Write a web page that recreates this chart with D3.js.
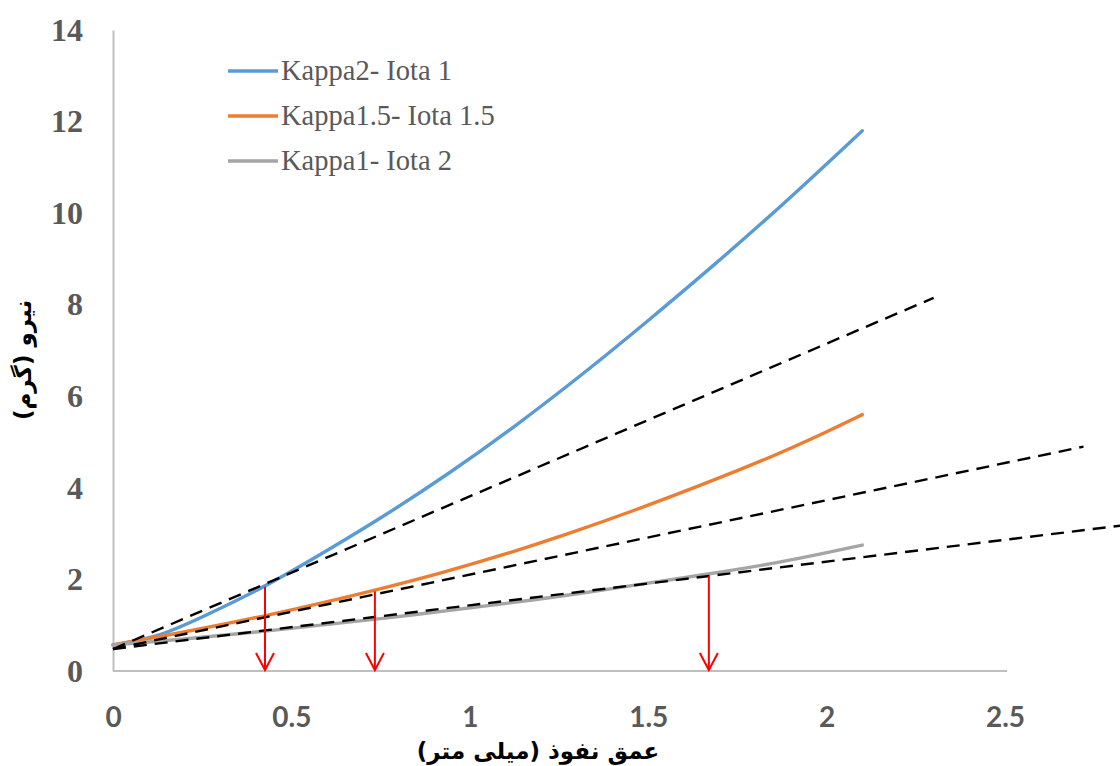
<!DOCTYPE html>
<html>
<head>
<meta charset="utf-8">
<script src="https://cdn.jsdelivr.net/npm/d3@7"></script>
<style>
  body { margin: 0; background: #fff; }
</style>
</head>
<body>
<script>
////// data (x = depth mm, y = force g)

const seriesNames = ["Kappa2- Iota 1", "Kappa1.5- Iota 1.5", "Kappa1- Iota 2"];
const seriesColors = ["#5b9bd5", "#ed7d31", "#a5a5a5"];

const kappa2X = [0, 0.13, 0.27, 0.43, 0.55, 0.74, 0.94, 1.12, 1.32, 1.5, 1.69, 1.88, 2.1];
const kappa2Y = [0.57, 0.74, 1.25, 1.86, 2.4, 3.28, 4.3, 5.3, 6.5, 7.65, 8.9, 10.2, 11.8];

const kappa15X = [0, 0.18, 0.43, 0.74, 0.93, 1.1, 1.27, 1.46, 1.645, 1.83, 2.0, 2.1];
const kappa15Y = [0.57, 0.82, 1.2, 1.77, 2.16, 2.55, 2.98, 3.5, 4.05, 4.62, 5.22, 5.6];

const kappa1X = [0, 0.18, 0.43, 0.74, 1.11, 1.3, 1.5, 1.67, 1.88, 2.1];
const kappa1Y = [0.57, 0.68, 0.87, 1.13, 1.48, 1.68, 1.92, 2.12, 2.38, 2.75];

// dashed tangent lines: [x0, y0, x1, y1]
const tangents = [
    [0, 0.48, 2.3, 8.15],
    [0, 0.48, 2.72, 4.9],
    [0, 0.48, 2.85, 3.2]
];

// red arrows: x position and top value
const arrowX = [0.426, 0.734, 1.67];
const arrowTop = [1.84, 1.74, 2.07];

const xTicks = [0, 0.5, 1, 1.5, 2, 2.5];
const yTicks = [0, 2, 4, 6, 8, 10, 12, 14];

const xTitle = "عمق نفوذ (میلی متر)";
const yTitle = "نیرو (گرم)";

//////

const W = 1120, H = 766;

const svg = d3.select("body").append("svg")
    .attr("width", W)
    .attr("height", H);

const x = d3.scaleLinear().domain([0, 2.5]).range([113, 1005]);
const y = d3.scaleLinear().domain([0, 14]).range([671, 30]);

// axes
const xAxis = svg.append("g")
    .attr("transform", `translate(0,${y(0)})`)
    .call(d3.axisBottom(x).tickValues(xTicks).tickFormat(d3.format("")).tickSize(0).tickPadding(36));
xAxis.select(".domain").attr("stroke", "#bfbfbf").attr("stroke-width", 2)
    .attr("d", `M${x(0)},0H1007`);
xAxis.selectAll("text")
    .attr("font-family", "Lato, 'Open Sans', sans-serif")
    .attr("font-weight", "bold")
    .attr("font-size", 28)
    .attr("fill", "#595959");

const yAxis = svg.append("g")
    .attr("transform", `translate(${x(0)},0)`)
    .call(d3.axisLeft(y).tickValues(yTicks).tickSize(0).tickPadding(30));
yAxis.select(".domain").attr("stroke", "#bfbfbf").attr("stroke-width", 2);
yAxis.selectAll("text")
    .attr("font-family", "'Liberation Serif', 'Times New Roman', serif")
    .attr("font-weight", "bold")
    .attr("font-size", 32)
    .attr("fill", "#595959");

// curves
const line = d3.line()
    .x(d => x(d[0]))
    .y(d => y(d[1]))
    .curve(d3.curveBasis);

const series = [
    d3.zip(kappa2X, kappa2Y),
    d3.zip(kappa15X, kappa15Y),
    d3.zip(kappa1X, kappa1Y)
];

svg.selectAll(".curve")
    .data(series)
    .join("path")
    .attr("class", "curve")
    .attr("d", line)
    .attr("fill", "none")
    .attr("stroke", (d, i) => seriesColors[i])
    .attr("stroke-width", 3.4)
    .attr("stroke-linecap", "round");

// tangents
svg.selectAll(".tangent")
    .data(tangents)
    .join("line")
    .attr("class", "tangent")
    .attr("x1", d => x(d[0]))
    .attr("y1", d => y(d[1]))
    .attr("x2", d => x(d[2]))
    .attr("y2", d => y(d[3]))
    .attr("stroke", "#000")
    .attr("stroke-width", 2.4)
    .attr("stroke-dasharray", "13,8");

// red arrows
const arrows = svg.selectAll(".arrow")
    .data(d3.zip(arrowX, arrowTop))
    .join("g")
    .attr("class", "arrow")
    .attr("fill", "none")
    .attr("stroke", "#ff0000")
    .attr("stroke-width", 2);
arrows.append("line")
    .attr("x1", d => x(d[0]))
    .attr("x2", d => x(d[0]))
    .attr("y1", d => y(d[1]))
    .attr("y2", y(0) - 1);
arrows.append("path")
    .attr("d", d => `M${x(d[0]) - 9},${y(0) - 18}L${x(d[0])},${y(0) - 1}L${x(d[0]) + 9},${y(0) - 18}`);

// legend
const legend = svg.append("g");
seriesNames.forEach((name, i) => {
    const ly = 71 + i * 45;
    legend.append("line")
        .attr("x1", 228).attr("x2", 278)
        .attr("y1", ly).attr("y2", ly)
        .attr("stroke", seriesColors[i])
        .attr("stroke-width", 3.4);
    legend.append("text")
        .attr("x", 281)
        .attr("y", ly + 9)
        .attr("font-family", "'Liberation Serif', 'Times New Roman', serif")
        .attr("font-size", 28.5)
        .attr("fill", "#595959")
        .text(name);
});

// titles
svg.append("text")
    .attr("x", 538)
    .attr("y", 759)
    .attr("text-anchor", "middle")
    .attr("direction", "rtl")
    .attr("font-family", "'DejaVu Sans', sans-serif")
    .attr("font-weight", "bold")
    .attr("font-size", 23)
    .attr("fill", "#000")
    .text(xTitle);

svg.append("text")
    .attr("transform", "translate(31,360) rotate(-90)")
    .attr("text-anchor", "middle")
    .attr("direction", "rtl")
    .attr("font-family", "'DejaVu Sans', sans-serif")
    .attr("font-weight", "bold")
    .attr("font-size", 23)
    .attr("fill", "#000")
    .text(yTitle);
</script>
</body>
</html>
